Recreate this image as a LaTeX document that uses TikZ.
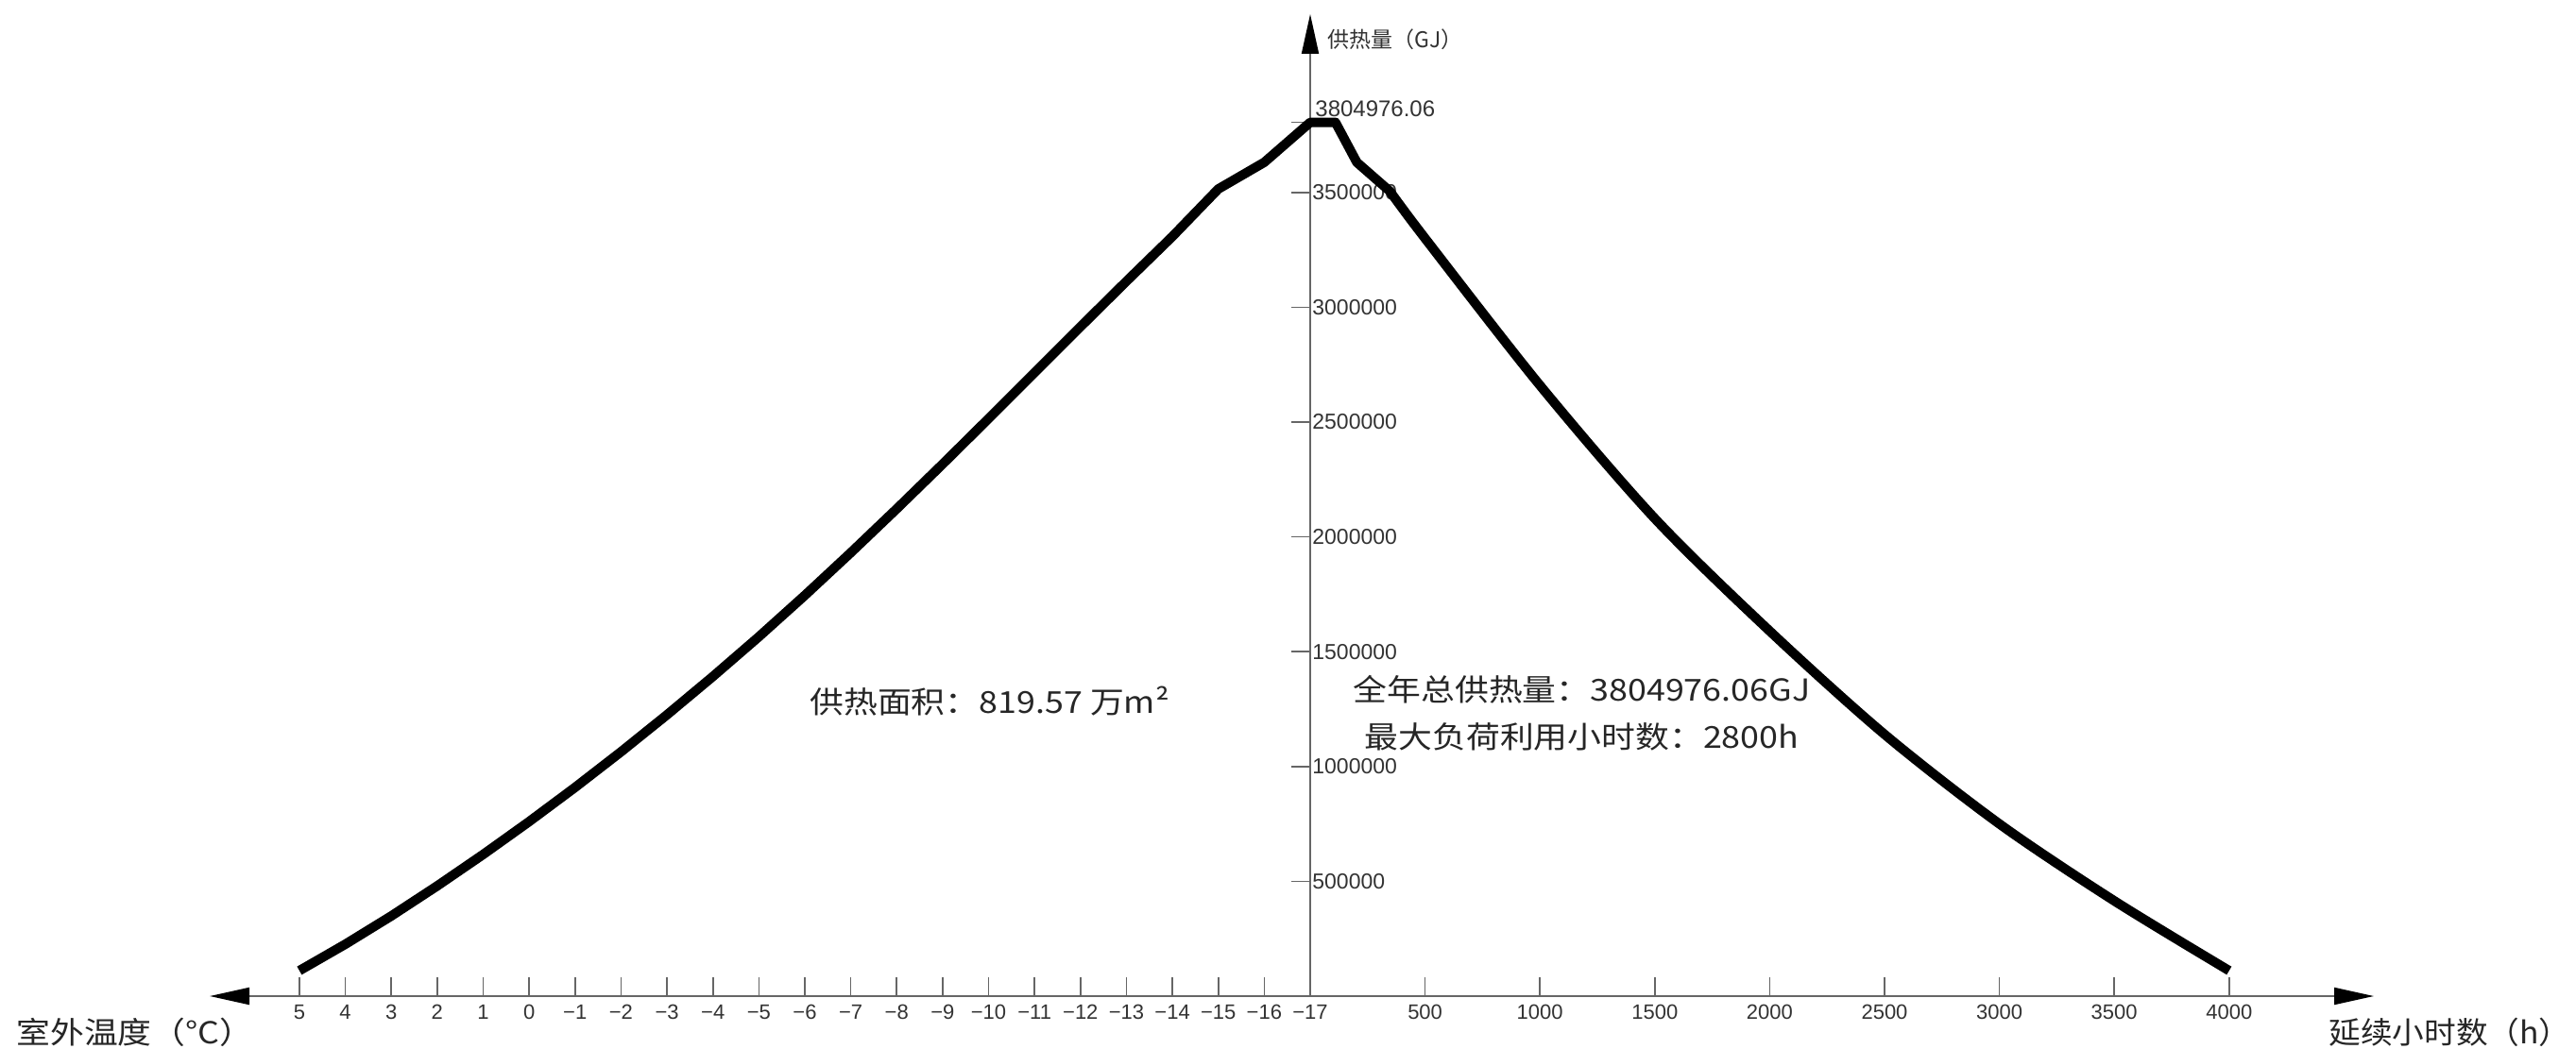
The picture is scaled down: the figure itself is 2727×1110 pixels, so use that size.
\documentclass[tikz,border=0pt]{standalone}
\usepackage{fontspec}
\newfontfamily\cjk{Noto Sans CJK SC}
\newfontfamily\numfont{Liberation Sans}
\usetikzlibrary{positioning, arrows.meta}

\begin{document}
\begin{tikzpicture}[
    x=0.5pt, y=0.5pt,
    axisline/.style={draw=black!60, line width=1pt, -{Triangle[length=21pt, width=9pt, color=black]}},
    tickline/.style={draw=black!60, line width=0.8pt},
    ticklabel/.style={font=\numfont\fontsize{11}{13}\selectfont, text=black!80, inner sep=0pt},
    curve/.style={line width=5pt, line join=round},
    note/.style={font=\cjk\fontsize{16}{19}\selectfont, text=black!85, inner sep=0pt, xscale=1.12},
    ]
    \path[use as bounding box, fill=white] (0,0) rectangle (2727,1110);
    %Axes
    \coordinate (O) at (1387,55);
    \coordinate (xl) at (222,55);
    \coordinate (xr) at (2513,55);
    \coordinate (yt) at (1387,1095);
    \draw[axisline] (O) -- (xl);
    \draw[axisline] (O) -- (xr);
    \draw[axisline] (O) -- (yt);

    \node[note, anchor=west] (templabel) at (17,17) {室外温度（°C）};
    \node[note, anchor=east, xscale=0.94] (hourlabel) at (2722,17) {延续小时数（h）};
    \node[ticklabel, font=\cjk\fontsize{11.5}{13}\selectfont, anchor=west] (heatlabel) at (1405,1068) {供热量（GJ）};

    \begin{scope}[shift={(O)}, x=0.1216pt, y=121.6pt]
    %Ticks
    \foreach \t [count=\i, evaluate=\t as \x using {-200*(\t+17)}] in {5,4,...,-17} {
        \draw[tickline] (\x,0) -- ++(0pt,10pt);
        \node[ticklabel] (tt\i) at ([yshift=-8.5pt]\x,0) {\ifnum\t<0 −\number-\t\else\t\fi};
    }
    \foreach \h [count=\i] in {500,1000,...,4000} {
        \draw[tickline] (\h,0) -- ++(0pt,10pt);
        \node[ticklabel] (th\i) at ([yshift=-8.5pt]\h,0) {\h};
    }
    \foreach \q/\v [count=\i] in {0.5/500000, 1/1000000, 1.5/1500000, 2/2000000, 2.5/2500000, 3/3000000, 3.5/3500000} {
        \draw[tickline] (0,\q) -- ++(-10pt,0pt);
        \node[ticklabel, font=\numfont\fontsize{11.5}{13}\selectfont, anchor=west] (tq\i) at ([xshift=1pt]0,\q) {\v};
    }
    \coordinate (peak) at (0,3.805);
    \draw[tickline] (peak) -- ++(-10pt,0pt);

    %Curve
    \draw[curve] plot coordinates {(-4400,0.111) (-4200,0.226) (-4000,0.349) (-3800,0.480)
        (-3600,0.617) (-3400,0.760) (-3200,0.909) (-3000,1.064) (-2800,1.225) (-2600,1.392)
        (-2400,1.565) (-2200,1.745) (-2000,1.931) (-1800,2.122) (-1600,2.317) (-1400,2.515)
        (-1200,2.715) (-1000,2.915) (-800,3.113) (-600,3.308) (-400,3.515) (-200,3.631) (0,3.805)}
        -- (110,3.805) -- (203,3.631) -- (347,3.505)
        -- plot[smooth] coordinates {(347,3.505) (500,3.300) (1000,2.660) (1500,2.080)
        (2000,1.590) (2500,1.140) (3000,0.750) (3500,0.415) (4000,0.111)};
    \end{scope}

    \node[ticklabel, font=\numfont\fontsize{12}{14}\selectfont, anchor=west] (peaklabel) at (1392,995) {3804976.06};
    \node[note, anchor=west] (area) at (857,367) {供热面积：819.57 万m²};
    \node[note] (total) at (1674.5,380) {全年总供热量：3804976.06GJ};
    \node[note] (maxhours) [below=10pt of total] {最大负荷利用小时数：2800h};
\end{tikzpicture}
\end{document}
